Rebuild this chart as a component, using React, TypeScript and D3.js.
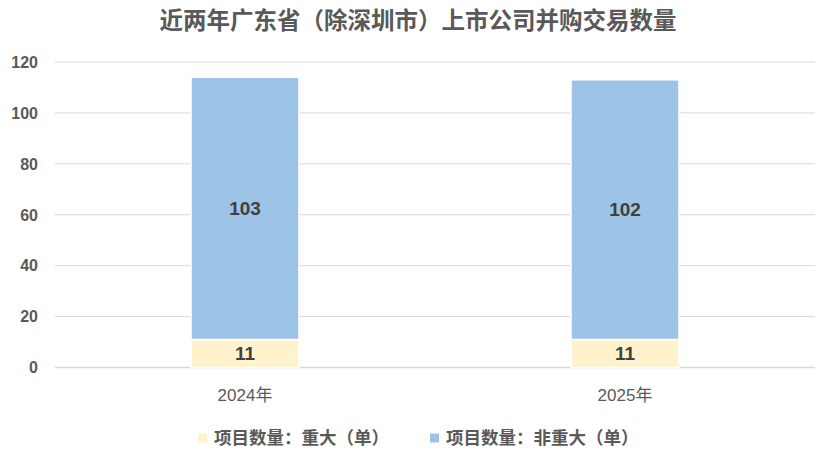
import React, { useEffect } from 'react';
import { scaleBand, scaleLinear, stack } from 'd3';

const years = ['2024年', '2025年'];
const majorDeals = [11, 11];
const otherDeals = [103, 102];
const yTicks = [0, 20, 40, 60, 80, 100, 120];
const seriesNames = ['项目数量：重大（单）', '项目数量：非重大（单）'];
const seriesColors = ['#FFF2CC', '#9DC3E6'];

const FONT = '"Liberation Sans", Arial, "Noto Sans CJK SC", sans-serif';

const App: React.FC = () => {
    useEffect(() => {
        document.body.style.margin = '0';
    }, []);

    const width = 830;
    const height = 459;
    const margin = { top: 62, right: 15, bottom: 91.5, left: 55 };

    const x = scaleBand<string>()
        .domain(years)
        .range([margin.left, width - margin.right])
        .paddingInner(0.716)
        .paddingOuter(0.358);

    const y = scaleLinear()
        .domain([0, 120])
        .range([height - margin.bottom, margin.top]);

    const rows = years.map((yr, i) => ({ year: yr, major: majorDeals[i], other: otherDeals[i] }));
    const layers = stack<any>().keys(['major', 'other'])(rows);

    return (
        <svg width={width} height={height} style={{ display: 'block', fontFamily: FONT }}>
            <rect width={width} height={height} fill="#ffffff" />

            {/* title */}
            <text x={418} y={29} textAnchor="middle" fontSize={23.5} fontWeight="bold" fill="#595959"
                fontFamily='"Noto Sans CJK SC", sans-serif'>
                近两年广东省（除深圳市）上市公司并购交易数量
            </text>

            {/* grid + y ticks */}
            {yTicks.map(t => (
                <g key={t}>
                    <line x1={margin.left} x2={width - margin.right} y1={y(t)} y2={y(t)}
                        stroke="#D9D9D9" strokeWidth={t === 0 ? 1.3 : 1} />
                    <text x={38} y={y(t)} dy="0.36em" textAnchor="end" fontSize={16} fontWeight="bold" fill="#595959">
                        {t}
                    </text>
                </g>
            ))}

            {/* bars */}
            {layers.map((layer, li) => (
                <g key={li}>
                    {layer.map((d, i) => {
                        const x0 = x(years[i]) as number;
                        const yTop = y(d[1]);
                        const yBot = y(d[0]);
                        const value = d[1] - d[0];
                        return (
                            <g key={i}>
                                <rect x={x0} y={yTop} width={x.bandwidth()} height={yBot - yTop}
                                    fill={seriesColors[li]} stroke="#ffffff" strokeWidth={1.5} />
                                <text x={x0 + x.bandwidth() / 2} y={(yTop + yBot) / 2} dy="0.36em"
                                    textAnchor="middle" fontSize={19} fontWeight="bold" fill="#404040">
                                    {value}
                                </text>
                            </g>
                        );
                    })}
                </g>
            ))}

            {/* x labels */}
            {years.map(yr => (
                <text key={yr} x={(x(yr) as number) + x.bandwidth() / 2} y={395} dy="0.36em"
                    textAnchor="middle" fontSize={17} fill="#595959">
                    {yr}
                </text>
            ))}

            {/* legend */}
            {seriesNames.map((name, i) => {
                const lx = [198, 430][i];
                return (
                    <g key={name} transform={`translate(${lx},438)`}>
                        <rect x={0} y={-4.5} width={9} height={9} fill={seriesColors[i]} />
                        <text x={16} y={0} dy="0.36em" fontSize={17.5} fontWeight="bold" fill="#595959">
                            {name}
                        </text>
                    </g>
                );
            })}
        </svg>
    );
};

export default App;
